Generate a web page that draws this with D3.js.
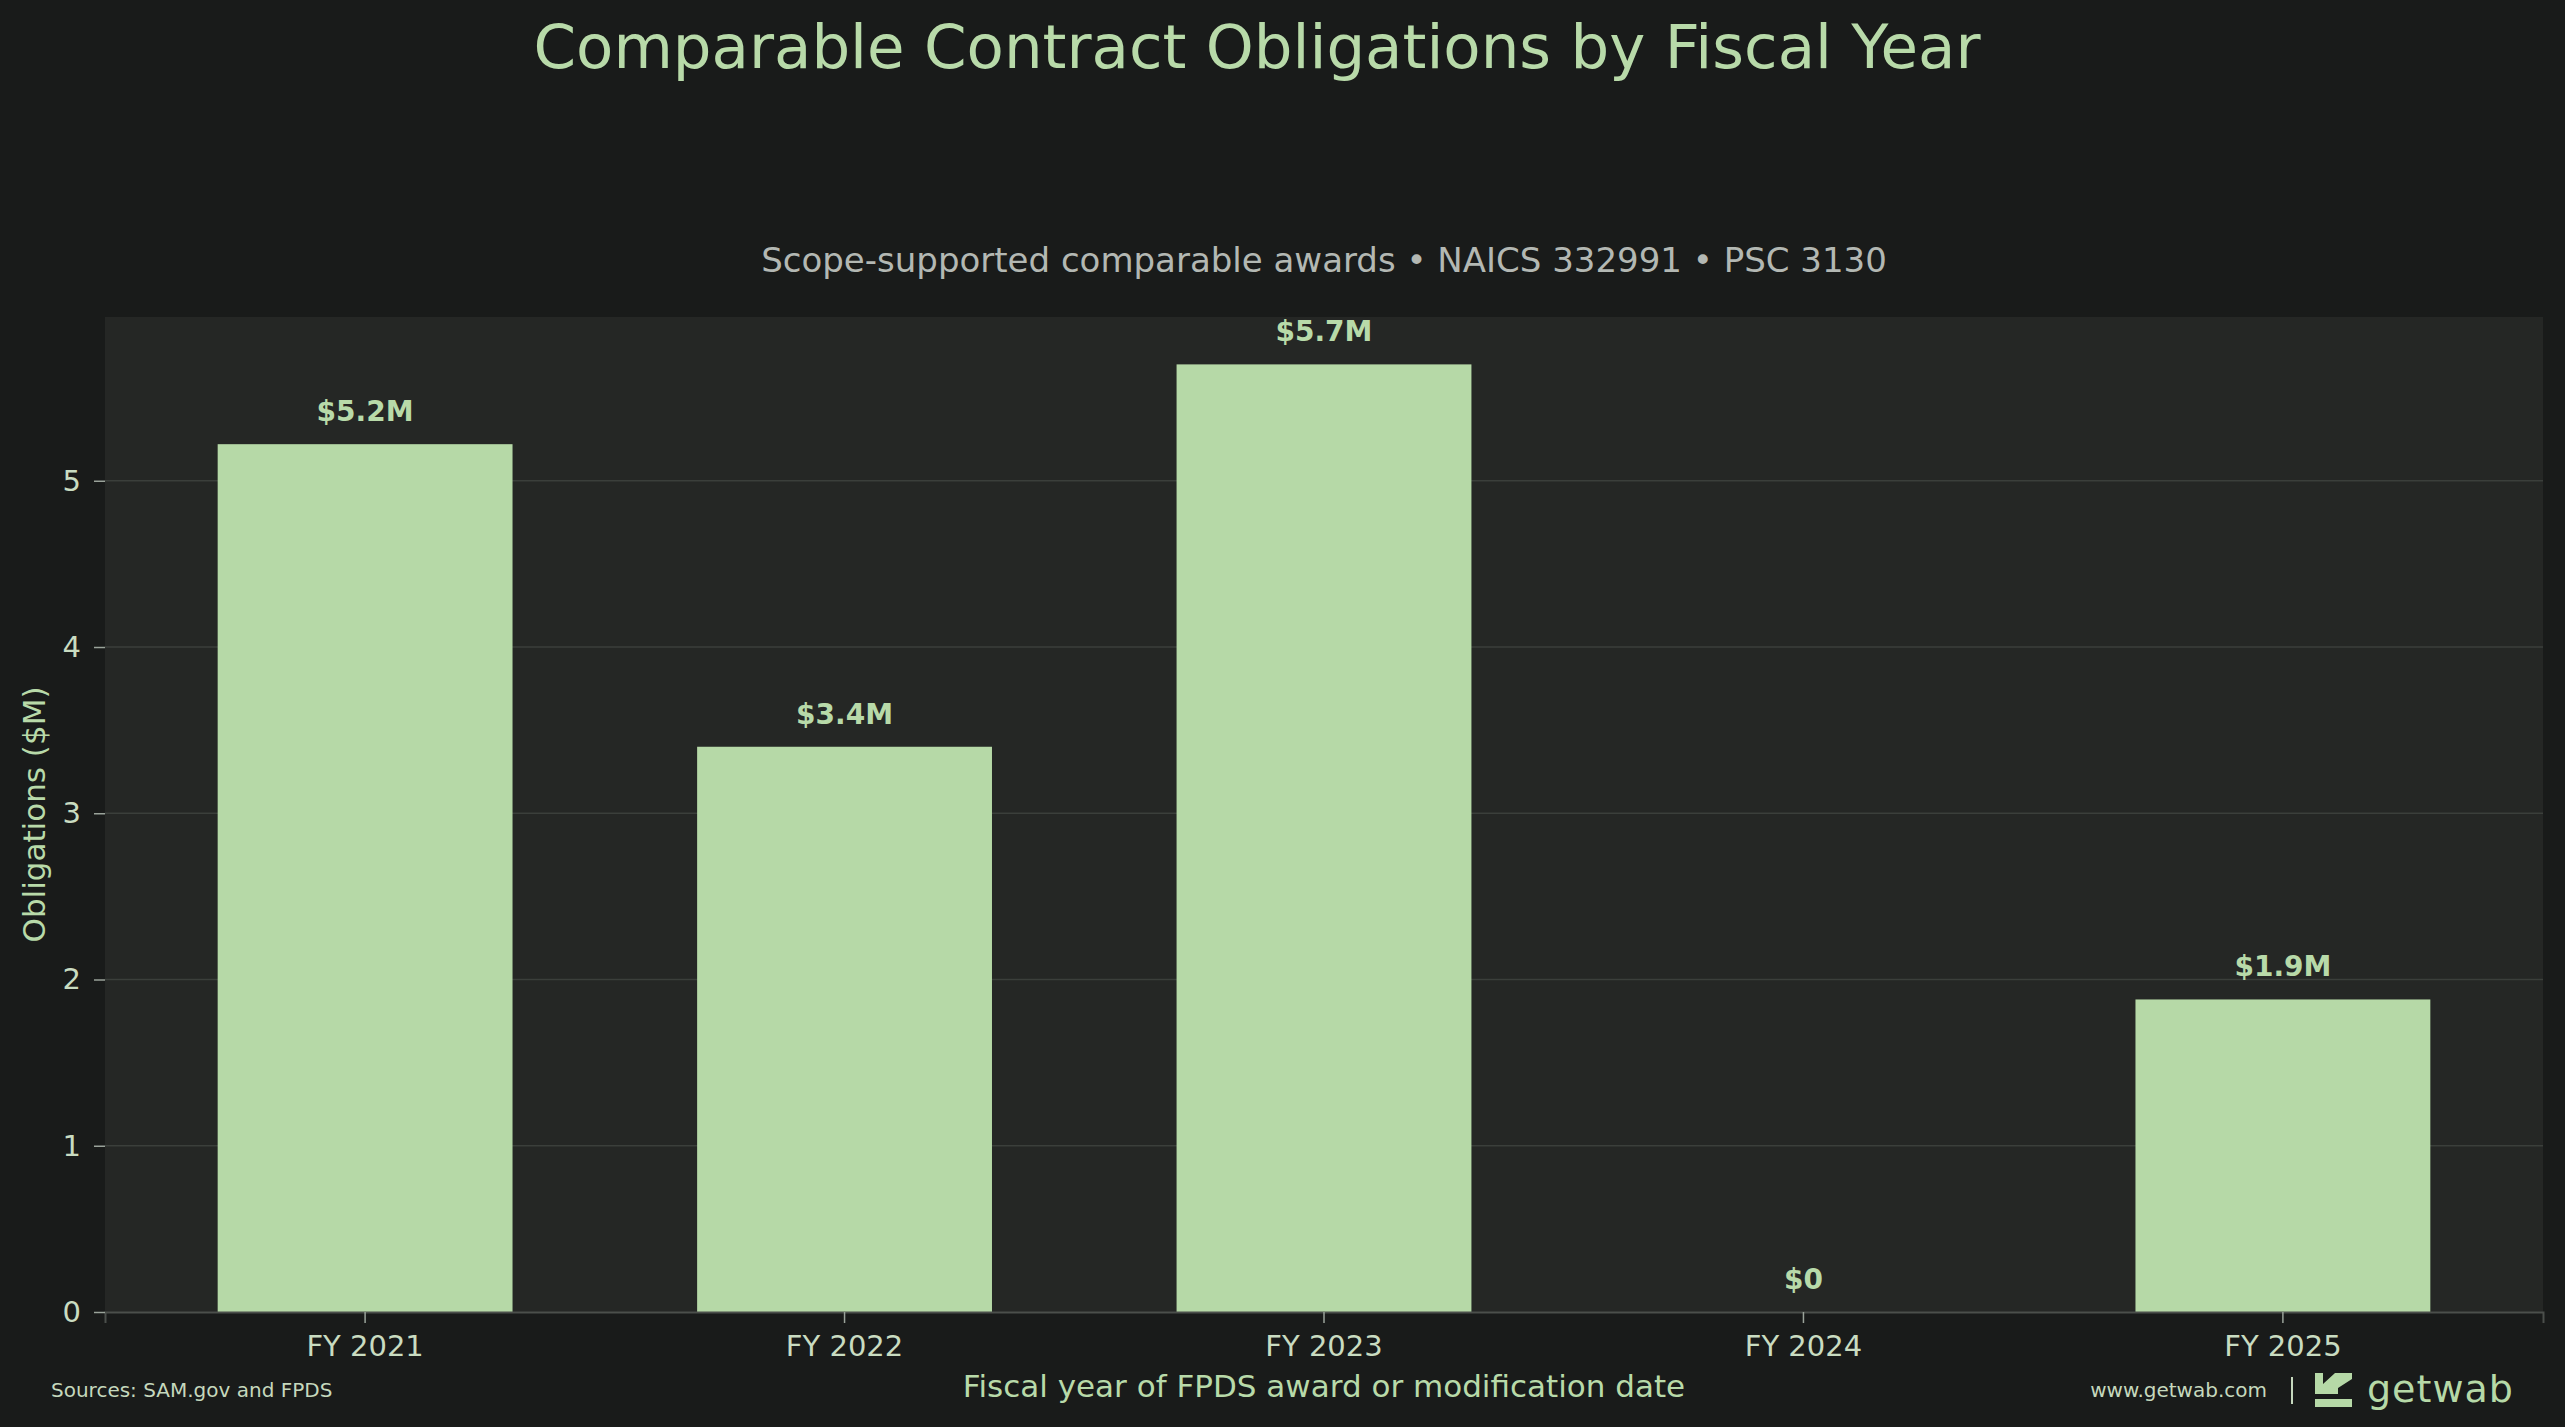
<!DOCTYPE html>
<html>
<head>
<meta charset="utf-8">
<script src="https://cdn.jsdelivr.net/npm/d3@7"></script>
<style>
  html, body { margin: 0; padding: 0; background: #191b1a; }
  svg { display: block; font-family: "DejaVu Sans", sans-serif; }
</style>
</head>
<body>
<div id="root"></div>
<script>
const categories = ["FY 2021", "FY 2022", "FY 2023", "FY 2024", "FY 2025"]
const obligations = [5.22, 3.40, 5.70, 0, 1.88]
const valueLabels = ["$5.2M", "$3.4M", "$5.7M", "$0", "$1.9M"]
const yTicks = [0, 1, 2, 3, 4, 5]

const width = 2565
const height = 1427
const margin = { top: 317, right: 22, bottom: 115, left: 105 }
const boundedWidth = width - margin.left - margin.right
const boundedHeight = height - margin.top - margin.bottom

const svg = d3.select("#root").append("svg")
  .attr("width", width)
  .attr("height", height)

svg.append("rect")
  .attr("width", width)
  .attr("height", height)
  .attr("fill", "#191b1a")

// titles
svg.append("text")
  .attr("x", 1257)
  .attr("y", 68)
  .attr("text-anchor", "middle")
  .attr("fill", "#b8daa9")
  .style("font-size", "61px")
  .text("Comparable Contract Obligations by Fiscal Year")

svg.append("text")
  .attr("x", margin.left + boundedWidth / 2)
  .attr("y", 272)
  .attr("text-anchor", "middle")
  .attr("fill", "#b3b8b3")
  .style("font-size", "34px")
  .text("Scope-supported comparable awards \u2022 NAICS 332991 \u2022 PSC 3130")

const bounds = svg.append("g")
  .attr("transform", `translate(${margin.left}, ${margin.top})`)

bounds.append("rect")
  .attr("width", boundedWidth)
  .attr("height", boundedHeight)
  .attr("fill", "#252725")

const xScale = d3.scaleBand()
  .domain(categories)
  .range([0, boundedWidth])
  .paddingInner(0.385)
  .paddingOuter(0.235)

const yScale = d3.scaleLinear()
  .domain([0, d3.max(obligations) * 1.05])
  .range([boundedHeight, 0])

// grid
bounds.append("g")
  .selectAll("line")
  .data(yTicks.filter(d => d > 0))
  .join("line")
  .attr("x1", 0)
  .attr("x2", boundedWidth)
  .attr("y1", d => yScale(d))
  .attr("y2", d => yScale(d))
  .attr("stroke", "#3b3f3b")
  .attr("stroke-width", 1.5)

// bars
bounds.append("g")
  .selectAll("rect")
  .data(obligations)
  .join("rect")
  .attr("x", (d, i) => xScale(categories[i]))
  .attr("y", d => yScale(d))
  .attr("width", xScale.bandwidth())
  .attr("height", d => boundedHeight - yScale(d))
  .attr("fill", "#b6d9a7")

bounds.append("g")
  .selectAll("text")
  .data(obligations)
  .join("text")
  .attr("x", (d, i) => xScale(categories[i]) + xScale.bandwidth() / 2)
  .attr("y", d => yScale(d) - 23)
  .attr("text-anchor", "middle")
  .attr("fill", "#b8daa9")
  .style("font-size", "28px")
  .style("font-weight", "bold")
  .text((d, i) => valueLabels[i])

// axes
const xAxis = bounds.append("g")
  .attr("transform", `translate(0, ${boundedHeight})`)
  .call(d3.axisBottom(xScale).tickSize(11).tickPadding(12))
xAxis.select(".domain").attr("stroke", "#4b4f4b").attr("stroke-width", 2)

const yAxis = bounds.append("g")
  .call(d3.axisLeft(yScale).tickValues(yTicks).tickFormat(d3.format("d")).tickSize(11).tickPadding(13))
yAxis.select(".domain").remove()

bounds.selectAll(".tick line").attr("stroke", "#9aa39a").attr("stroke-width", 1.5)
bounds.selectAll(".tick text")
  .attr("fill", "#c9dcc1")
  .style("font-size", "29px")
  .style("font-family", "DejaVu Sans, sans-serif")

// axis titles
svg.append("text")
  .attr("transform", `translate(45, ${margin.top + boundedHeight / 2}) rotate(-90)`)
  .attr("text-anchor", "middle")
  .attr("fill", "#b8daa9")
  .style("font-size", "31px")
  .text("Obligations ($M)")

svg.append("text")
  .attr("x", margin.left + boundedWidth / 2)
  .attr("y", 1397)
  .attr("text-anchor", "middle")
  .attr("fill", "#b8daa9")
  .style("font-size", "31px")
  .text("Fiscal year of FPDS award or modification date")

// footer
svg.append("text")
  .attr("x", 51)
  .attr("y", 1397)
  .attr("fill", "#c5d8bd")
  .style("font-size", "20px")
  .text("Sources: SAM.gov and FPDS")

svg.append("text")
  .attr("x", 2267)
  .attr("y", 1397)
  .attr("text-anchor", "end")
  .attr("fill", "#c5d8bd")
  .style("font-size", "20px")
  .text("www.getwab.com")

svg.append("line")
  .attr("x1", 2292).attr("x2", 2292)
  .attr("y1", 1377).attr("y2", 1404)
  .attr("stroke", "#c5d8bd")
  .attr("stroke-width", 2)

const logo = svg.append("g")
  .attr("transform", "translate(2315, 1373)")
  .attr("fill", "#b6d9a7")
logo.append("path")
  .attr("d", "M0,0 L8,0 L8,11 L20,0 L37,0 L37,6 L23,15 L23,21 L0,21 Z")
logo.append("rect")
  .attr("x", 0).attr("y", 26).attr("width", 37).attr("height", 8)

svg.append("text")
  .attr("x", 2367)
  .attr("y", 1402)
  .attr("fill", "#b6d9a7")
  .style("font-size", "38px")
  .style("letter-spacing", "1px")
  .text("getwab")
</script>
</body>
</html>
